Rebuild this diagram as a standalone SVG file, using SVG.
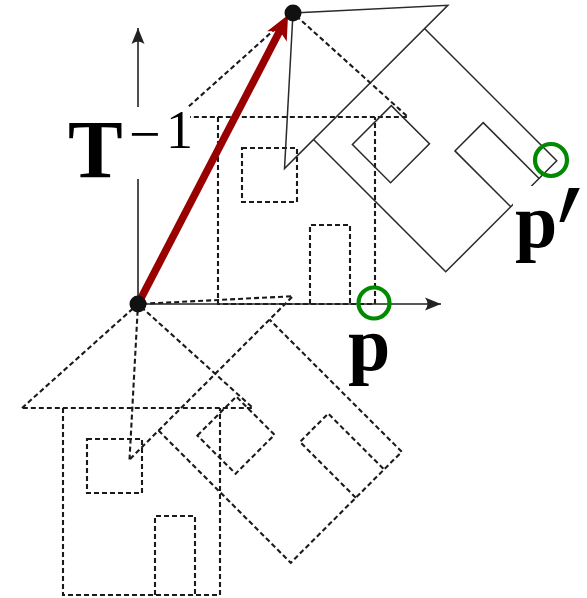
<svg xmlns="http://www.w3.org/2000/svg" xmlns:xlink="http://www.w3.org/1999/xlink" width="587" height="598" viewBox="0 0 587 598">
  <style>
    .dash { fill: none; stroke: #1a1a1a; stroke-width: 2.1; stroke-dasharray: 5 3; }
    .solid { fill: none; stroke: #2a2a2a; stroke-width: 1.5; }
    .axis { fill: none; stroke: #222; stroke-width: 1.6; }
    .vec { fill: none; stroke: #990000; stroke-width: 7.5; }
    .pt { fill: #111; }
    .hit { fill: none; stroke: #008a00; stroke-width: 4.2; }
    .bold { font-family: "Liberation Serif", "Times New Roman", serif; font-weight: bold; fill: #000; }
    .reg { font-family: "Liberation Serif", "Times New Roman", serif; fill: #000; }
    .prime { font-family: "DejaVu Serif", serif; fill: #000; }
    .knock { fill: #fff; }
  </style>
  <defs>
    <!-- house outline in local coordinates, apex at the origin -->
    <g id="house">
      <path d="M-116,104 L0,0 L115,104 Z"/>
      <path d="M-75,104 V291 H82 V104"/>
      <rect x="-51" y="135" width="55" height="54"/>
      <path d="M17,291 V212 H57 V291"/>
    </g>
    <marker id="axisHead" markerUnits="userSpaceOnUse" viewBox="-18 -8 19 16" markerWidth="19" markerHeight="16" refX="0" refY="0" orient="auto">
      <path d="M0,0 L-16,-6.5 Q-11,0 -16,6.5 Z" fill="#222"/>
    </marker>
    <marker id="vecHead" markerUnits="userSpaceOnUse" viewBox="-25 -12 26 24" markerWidth="26" markerHeight="24" refX="-17" refY="0" orient="auto">
      <path d="M0,0 L-24,-11 L-18,0 L-24,11 Z" fill="#990000"/>
    </marker>
  </defs>

  <!-- houses -->
  <g id="house-upright-moved">
    <use xlink:href="#house" href="#house" class="dash" transform="translate(293,13)"/>
  </g>
  <g id="house-rotated-moved">
    <use xlink:href="#house" href="#house" class="solid" transform="translate(293,13) rotate(-45)"/>
  </g>
  <g id="house-upright-origin">
    <use xlink:href="#house" href="#house" class="dash" transform="translate(138,304)"/>
  </g>
  <g id="house-rotated-origin">
    <use xlink:href="#house" href="#house" class="dash" transform="translate(138,304) rotate(-45)"/>
  </g>

  <!-- connectors: axes and translation vector -->
  <g id="connectors">
    <line class="axis" x1="138" y1="304" x2="441" y2="304" marker-end="url(#axisHead)"/>
    <line class="axis" x1="138" y1="304" x2="138" y2="28" marker-end="url(#axisHead)"/>
    <line class="vec" x1="138" y1="304" x2="280.2" y2="30.1" marker-end="url(#vecHead)"/>
  </g>

  <!-- labels -->
  <g id="label-T">
    <rect class="knock" x="60" y="107" width="130" height="72"/>
    <text class="bold" x="68" y="177" font-size="82">T</text>
    <text class="reg" x="129" y="153" font-size="56">−</text>
    <text class="reg" x="166" y="148" font-size="54">1</text>
  </g>
  <g id="label-p">
    <text class="bold" x="348" y="370" font-size="76">p</text>
  </g>
  <g id="label-p-prime">
    <rect class="knock" x="513" y="186" width="74" height="88"/>
    <text class="bold" x="515" y="247" font-size="76">p</text>
    <text class="prime" x="-4.4" y="127" font-size="185" transform="translate(560,197) scale(0.6,1)">′</text>
  </g>

  <!-- points -->
  <g id="point-origin"><circle class="pt" cx="138" cy="304" r="8.5"/></g>
  <g id="point-moved"><circle class="pt" cx="293" cy="13" r="8.5"/></g>
  <g id="marker-p"><circle class="hit" cx="374" cy="303" r="15.5"/></g>
  <g id="marker-p-prime"><circle class="hit" cx="551" cy="160" r="16"/></g>
</svg>
